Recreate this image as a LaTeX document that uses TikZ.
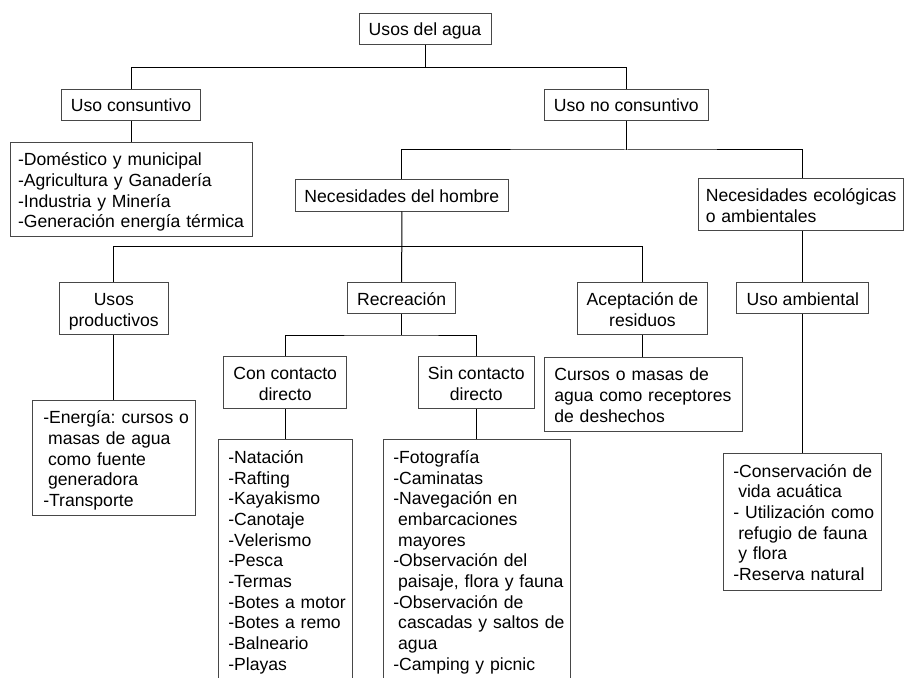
\documentclass[tikz,border=0pt]{standalone}
\usepackage{fontspec}
\setmainfont{Liberation Sans}
\frenchspacing
\newdimen\pxu \pxu=0.75pt
% unbreakable blocks of lines, set a little low in their box
\newcommand\linesof[1]{\raisebox{-2.3pt}[\height][\depth]{\begin{tabular}{@{}l@{}}#1\end{tabular}}}
\newcommand\centredlines[1]{\raisebox{-2.3pt}[\height][\depth]{\begin{tabular}{@{}c@{}}#1\end{tabular}}}
\newcommand\ind{\hspace*{.278em}}
\begin{document}
\begin{tikzpicture}[x=0.75pt, y=-0.75pt,
  box/.style={draw=black!72, line width=0.75pt, inner sep=0pt,
              font=\fontsize{13.2}{15.5}\selectfont},
  cbox/.style={box},
  lbox/.style={box, align=left, inner ysep=0pt},
  link/.style={draw=black, line width=0.75pt}]
\clip (0,0) rectangle (905,677);
\fill[white] (0,0) rectangle (905,677);

% first level
\node[cbox, minimum width=132\pxu, minimum height=31\pxu] (root) at (425,28.7) {\centredlines{Usos del agua}};
\node[cbox, minimum width=139.5\pxu, minimum height=31\pxu] (cons) at (131,104.8) {\centredlines{Uso consuntivo}};
\node[cbox, minimum width=164\pxu, minimum height=31\pxu] (nocons) at (626.3,104.8) {\centredlines{Uso no consuntivo}};
\node[lbox, inner xsep=8\pxu, text width=226.3\pxu, minimum height=94\pxu] (conslist) at (131.2,189.7)
  {\linesof{-Doméstico y municipal\\-Agricultura y Ganadería\\-Industria y Minería\\-Generación energía térmica}};

% second level
\node[cbox, minimum width=213\pxu, minimum height=31\pxu] (hombre) at (401.8,195.5) {\centredlines{Necesidades del hombre}};
\node[lbox, inner xsep=7.4\pxu, text width=190.2\pxu, minimum height=52.3\pxu] (ecol) at (800.9,204.8)
  {\linesof{Necesidades ecológicas\\o ambientales}};

% third level
\node[cbox, minimum width=109\pxu, minimum height=52.4\pxu] (usosprod) at (113.8,308.5) {\centredlines{Usos\\productivos}};
\node[cbox, minimum width=108\pxu, minimum height=31\pxu] (recre) at (401.7,297.8) {\centredlines{Recreación}};
\node[cbox, minimum width=130.4\pxu, minimum height=52.7\pxu] (acept) at (642.5,308.6) {\centredlines{Aceptación de\\residuos}};
\node[cbox, minimum width=131.7\pxu, minimum height=31\pxu] (usoamb) at (802.8,297.8) {\centredlines{Uso ambiental}};

\node[cbox, minimum width=123\pxu, minimum height=52\pxu] (condir) at (285.2,382.7) {\centredlines{Con contacto\\directo}};
\node[cbox, minimum width=116\pxu, minimum height=52\pxu] (sindir) at (476.3,382.7) {\centredlines{Sin contacto\\directo}};
\node[lbox, inner xsep=10\pxu, text width=178.4\pxu, minimum height=73.7\pxu] (cursos) at (643.5,394.2)
  {\linesof{Cursos o masas de\\agua como receptores\\de deshechos}};

% detail lists
\node[lbox, inner xsep=10.6\pxu, text width=142.1\pxu, minimum height=115.7\pxu] (energia) at (114.3,458)
  {\linesof{-Energía: cursos o\\\ind masas de agua\\\ind como fuente\\\ind generadora\\-Transporte}};
\node[lbox, inner xsep=10\pxu, text width=114.4\pxu, minimum height=240.8\pxu] (conlist) at (285.5,559.7)
  {\linesof{-Natación\\-Rafting\\-Kayakismo\\-Canotaje\\-Velerismo\\-Pesca\\-Termas\\-Botes a motor\\-Botes a remo\\-Balneario\\-Playas}};
\node[lbox, inner xsep=10\pxu, text width=167.4\pxu, minimum height=240.8\pxu] (sinlist) at (477,559.7)
  {\linesof{-Fotografía\\-Caminatas\\-Navegación en\\\ind embarcaciones\\\ind mayores\\-Observación del\\\ind paisaje, flora y fauna\\-Observación de\\\ind cascadas y saltos de\\\ind agua\\-Camping y picnic}};
\node[lbox, inner xsep=10\pxu, text width=137.7\pxu, minimum height=136.7\pxu] (amblist) at (802.2,521.7)
  {\linesof{-Conservación de\\\ind vida acuática\\- Utilización como\\\ind refugio de fauna\\\ind y flora\\-Reserva natural}};

% junction points of the branching lines
\coordinate (j1) at (425,67.3);
\coordinate (j2) at (626.3,150);
\coordinate (j3) at (401.8,246.7);
\coordinate (j4) at (401.7,335);

% connectors
\draw[link] (root.south) -- (j1);
\draw[link] (cons.north) |- (j1) -| (nocons.north);
\draw[link] (cons.south) -- (cons.south |- conslist.north);
\draw[link] (nocons.south) -- (j2);
\draw[link] (hombre.north) |- (j2) -| (usoamb.north |- ecol.north);
\draw[link] (hombre.south) -- (recre.north);
\draw[link] (usosprod.north) |- (j3) -| (acept.north);
\draw[link] (usoamb.north |- ecol.south) -- (usoamb.north);
\draw[link] (usosprod.south) -- (usosprod.south |- energia.north);
\draw[link] (recre.south) -- (j4);
\draw[link] (condir.north) |- (j4) -| (sindir.north);
\draw[link] (acept.south) -- (acept.south |- cursos.north);
\draw[link] (condir.south) -- (condir.south |- conlist.north);
\draw[link] (sindir.south) -- (sindir.south |- sinlist.north);
\draw[link] (usoamb.south) -- (usoamb.south |- amblist.north);
\end{tikzpicture}
\end{document}
